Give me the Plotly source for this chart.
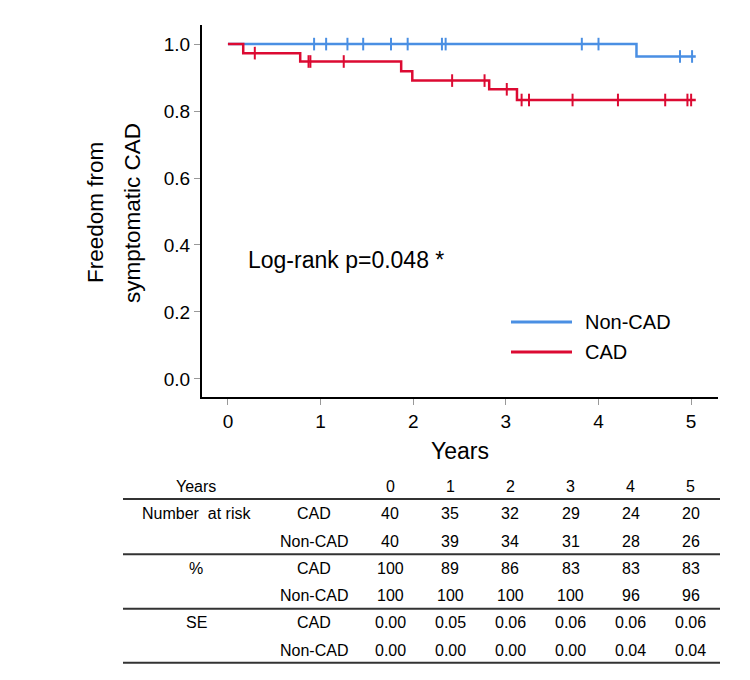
import plotly.graph_objects as go

# ---------------- data ----------------
# Kaplan-Meier step curves (event times, survival after event)
cad_times = [0.0, 0.165, 0.78, 1.87, 1.99, 2.82, 3.12, 5.05]
cad_surv = [1.0, 0.973, 0.948, 0.919, 0.891, 0.865, 0.833, 0.833]
cad_cens_t = [0.29, 0.87, 0.89, 1.25, 2.42, 2.77, 3.01, 3.17, 3.25, 3.72, 4.21, 4.72, 4.96, 5.0]
cad_cens_s = [0.973, 0.948, 0.948, 0.948, 0.891, 0.891, 0.865, 0.833, 0.833, 0.833, 0.833, 0.833, 0.833, 0.833]

non_times = [0.0, 4.41, 5.05]
non_surv = [1.0, 0.963, 0.963]
non_cens_t = [0.93, 1.06, 1.29, 1.46, 1.76, 1.94, 2.31, 2.35, 3.82, 4.0, 4.88, 5.01]
non_cens_s = [1.0, 1.0, 1.0, 1.0, 1.0, 1.0, 1.0, 1.0, 1.0, 1.0, 0.963, 0.963]

# Table values
years = [0, 1, 2, 3, 4, 5]
risk_cad = [40, 35, 32, 29, 24, 20]
risk_non = [40, 39, 34, 31, 28, 26]
pct_cad = [100, 89, 86, 83, 83, 83]
pct_non = [100, 100, 100, 100, 96, 96]
se_cad = ["0.00", "0.05", "0.06", "0.06", "0.06", "0.06"]
se_non = ["0.00", "0.00", "0.00", "0.00", "0.04", "0.04"]

y_ticks = [0.0, 0.2, 0.4, 0.6, 0.8, 1.0]
x_ticks = [0, 1, 2, 3, 4, 5]

BLUE = "#4A8FE3"
RED = "#DC0A32"
FONT = "Liberation Sans, Arial, sans-serif"

OFF = 8  # default page body margin
W, H = 750 - OFF, 680 - OFF
L, R, T, B = 202, 718, 25, 397  # plot area in page pixels


def px(x):
    return (x - L) / (R - L)


def py(y):
    return (B - y) / (B - T)


fig = go.Figure()

fig.add_trace(go.Scatter(x=non_times, y=non_surv, mode="lines", line=dict(color=BLUE, width=2.5, shape="hv"),
                         name="Non-CAD", showlegend=False, hoverinfo="skip"))
fig.add_trace(go.Scatter(x=cad_times, y=cad_surv, mode="lines", line=dict(color=RED, width=2.5, shape="hv"),
                         name="CAD", showlegend=False, hoverinfo="skip"))
fig.add_trace(go.Scatter(x=non_cens_t, y=non_cens_s, mode="markers",
                         marker=dict(symbol="line-ns", size=9, line=dict(color=BLUE, width=2)),
                         showlegend=False, hoverinfo="skip"))
fig.add_trace(go.Scatter(x=cad_cens_t, y=cad_cens_s, mode="markers",
                         marker=dict(symbol="line-ns", size=9, line=dict(color=RED, width=2)),
                         showlegend=False, hoverinfo="skip"))

annotations = []
shapes = []

# Axis titles
for txt, xx in [("Freedom from", 95), ("symptomatic CAD", 132)]:
    annotations.append(dict(text=txt, x=px(xx), y=py(213), xref="paper", yref="paper",
                            textangle=-90, showarrow=False, font=dict(size=22.5, color="black", family=FONT),
                            xanchor="center", yanchor="middle"))
annotations.append(dict(text="Years", x=px(460), y=py(451), xref="paper", yref="paper",
                        showarrow=False, font=dict(size=23, color="black", family=FONT),
                        xanchor="center", yanchor="middle"))
# Log-rank text
annotations.append(dict(text="Log-rank p=0.048 *", x=px(246), y=py(260), xref="paper", yref="paper",
                        showarrow=False, font=dict(size=23, color="black", family=FONT),
                        xanchor="left", yanchor="middle"))

# Legend (manual)
for name, col, yy in [("Non-CAD", BLUE, 322), ("CAD", RED, 352)]:
    shapes.append(dict(type="line", xref="paper", yref="paper", x0=px(511), x1=px(572), y0=py(yy), y1=py(yy),
                       line=dict(color=col, width=3)))
    annotations.append(dict(text=name, x=px(583), y=py(yy), xref="paper", yref="paper", showarrow=False,
                            font=dict(size=20, color="black", family=FONT), xanchor="left", yanchor="middle"))

# Table
col_x = [390, 450, 510, 570.7, 630.7, 690.7]
row_y = [486, 513.3, 541, 568.3, 595.7, 622.7, 650]
TF = dict(size=16, color="black", family=FONT)


def cell(text, x, y):
    annotations.append(dict(text=str(text), x=px(x), y=py(y), xref="paper", yref="paper", showarrow=False,
                            font=TF, xanchor="center", yanchor="middle"))


cell("Years", 196, row_y[0])
for i, yv in enumerate(years):
    cell(yv, col_x[i], row_y[0])

rows = [
    ("Number  at risk", "CAD", risk_cad),
    ("", "Non-CAD", risk_non),
    ("%", "CAD", pct_cad),
    ("", "Non-CAD", pct_non),
    ("SE", "CAD", se_cad),
    ("", "Non-CAD", se_non),
]
for r, (lab, grp, vals) in enumerate(rows):
    yy = row_y[r + 1]
    if lab:
        cell(lab, 196, yy)
    cell(grp, 314, yy)
    for i, v in enumerate(vals):
        cell(v, col_x[i], yy)

for ly in [499, 554.3, 608.7, 662.7]:
    shapes.append(dict(type="line", xref="paper", yref="paper", x0=px(123), x1=px(720), y0=py(ly), y1=py(ly),
                       line=dict(color="#333333", width=2)))

fig.update_layout(
    width=W, height=H,
    margin=dict(l=L - OFF, r=W - (R - OFF), t=T - OFF, b=H - (B - OFF), pad=0),
    plot_bgcolor="white", paper_bgcolor="white",
    font=dict(family=FONT, color="black"),
    annotations=annotations, shapes=shapes,
    showlegend=False,
)
fig.update_xaxes(range=[-0.28, 5.29], tickvals=x_ticks, ticks="outside", ticklen=6, tickwidth=1, tickcolor="#999999",
                 showline=True, linecolor="black", linewidth=2, showgrid=False, zeroline=False,
                 tickfont=dict(size=19, color="black", family=FONT), fixedrange=True)
fig.update_yaxes(range=[-0.054, 1.057], tickvals=y_ticks, tickformat=".1f", ticks="outside", ticklen=6, tickwidth=1,
                 tickcolor="#999999", showline=True, linecolor="black", linewidth=2, showgrid=False, zeroline=False,
                 tickfont=dict(size=19, color="black", family=FONT), fixedrange=True)

fig.write_html("out.html")
